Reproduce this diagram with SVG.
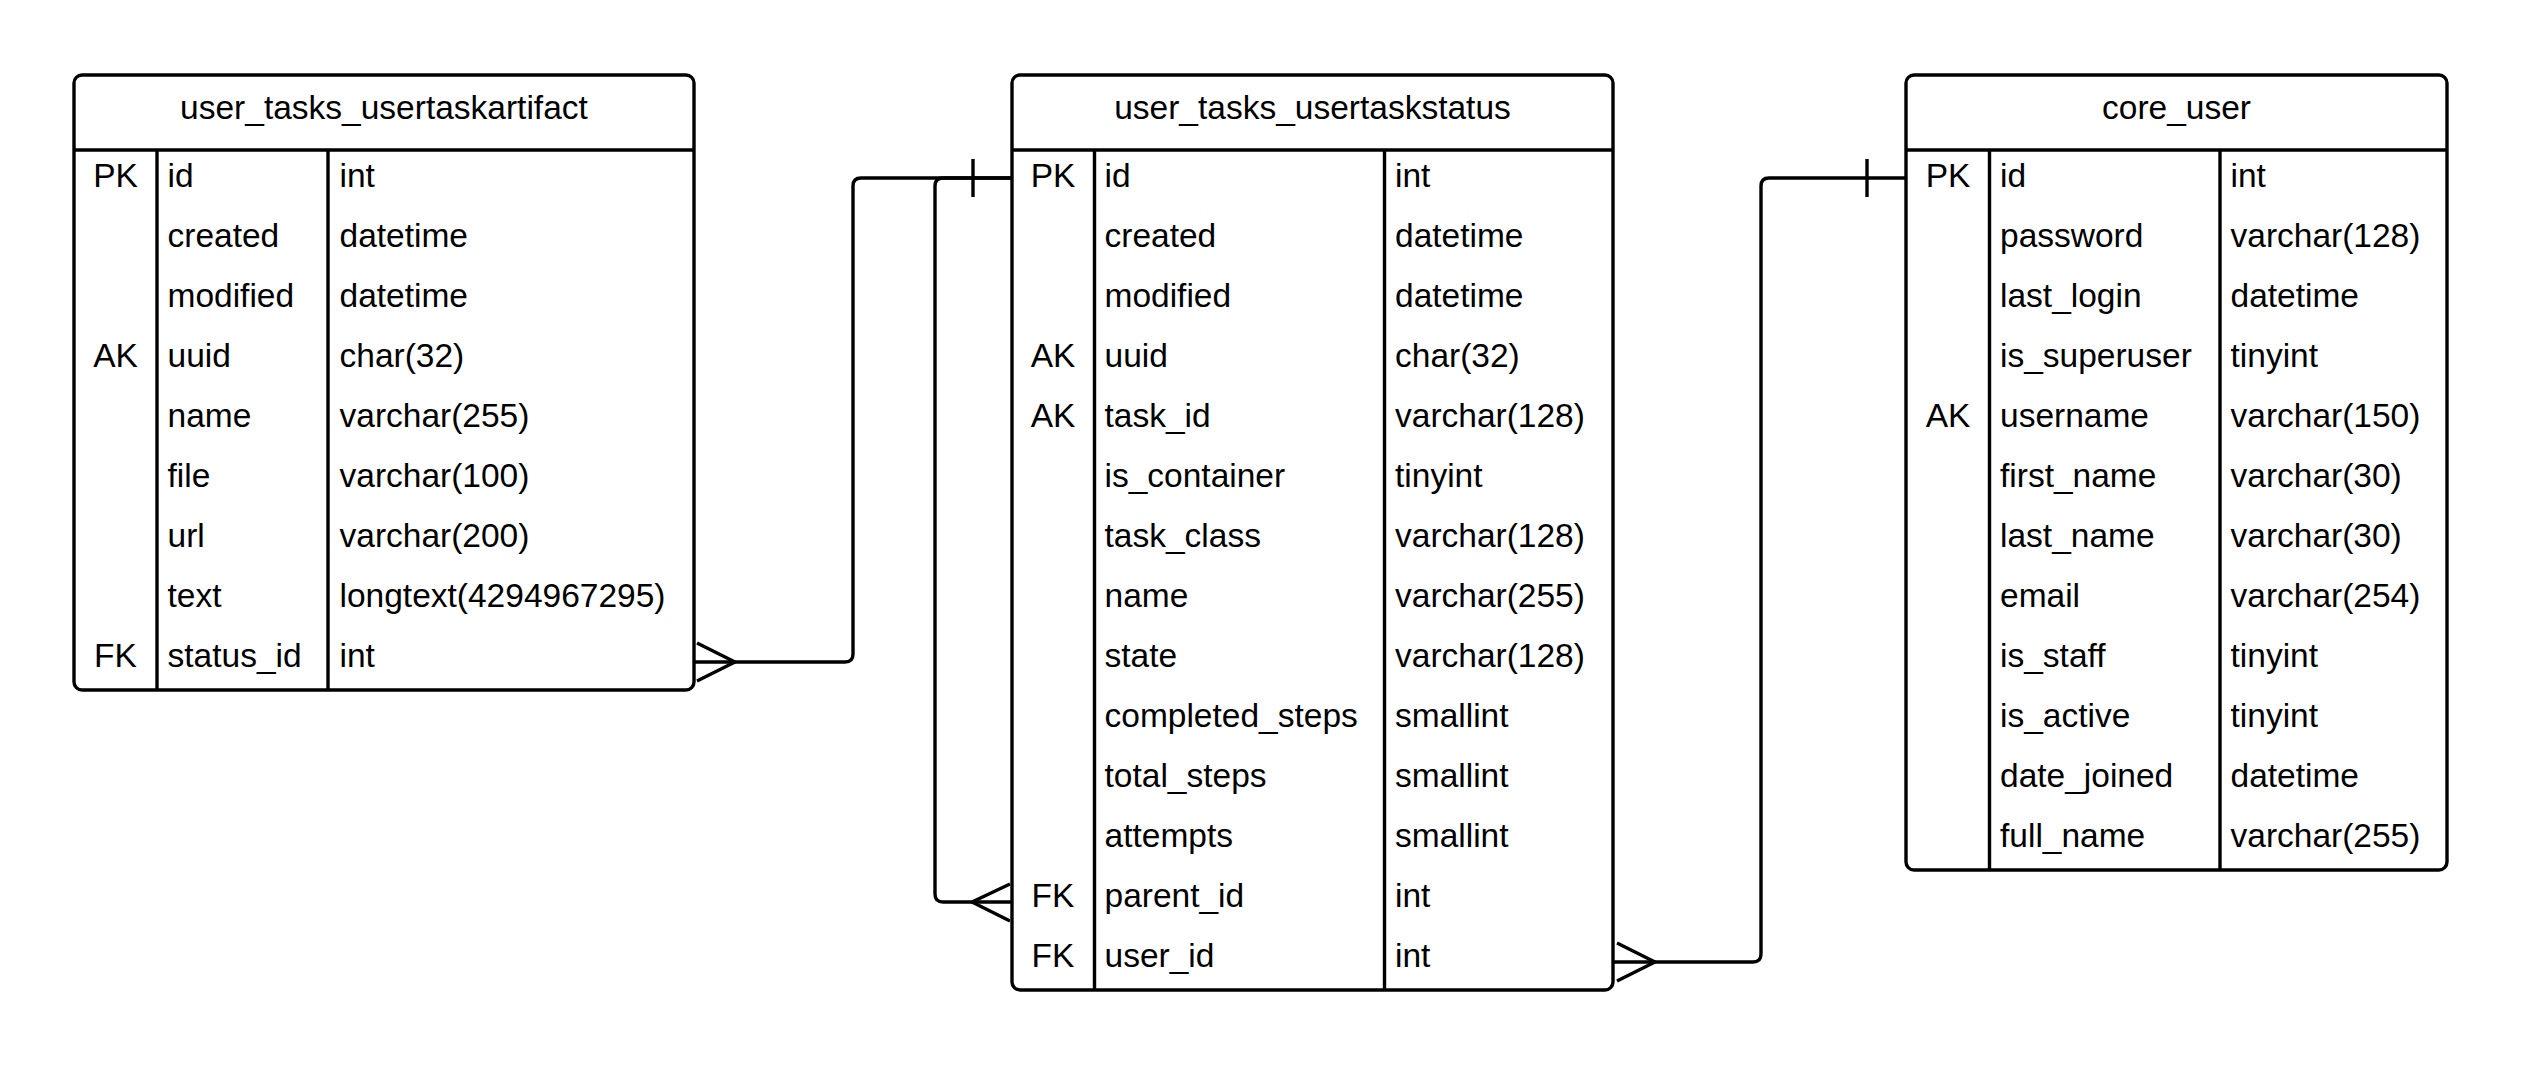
<svg xmlns="http://www.w3.org/2000/svg" width="2524" height="1065" viewBox="0 0 2524 1065">
<style>
.box{fill:#fff;stroke:#000;stroke-width:3.4}
.ln{stroke:#000;stroke-width:3.4;fill:none}
.t{font-family:"Liberation Sans",Arial,sans-serif;font-size:33.5px;fill:#000}
.h{text-anchor:middle}
.k{text-anchor:middle}
.c{fill:none;stroke:#000;stroke-width:3.4;stroke-linejoin:round}
</style>
<rect width="2524" height="1065" fill="#fff"/>
<g id="user_tasks_usertaskartifact">
<rect class="box" x="74" y="75" width="620" height="615" rx="8"/>
<path class="ln" d="M74 150H694M157 150V690M328 150V690"/>
<text class="t h" x="384" y="119">user_tasks_usertaskartifact</text>
<g class="t k"><text x="115.5" y="187">PK</text><text x="115.5" y="367">AK</text><text x="115.5" y="667">FK</text></g>
<g class="t">
<text x="167.5" y="187">id</text><text x="167.5" y="247">created</text><text x="167.5" y="307">modified</text><text x="167.5" y="367">uuid</text><text x="167.5" y="427">name</text><text x="167.5" y="487">file</text><text x="167.5" y="547">url</text><text x="167.5" y="607">text</text><text x="167.5" y="667">status_id</text>
<text x="339.5" y="187">int</text><text x="339.5" y="247">datetime</text><text x="339.5" y="307">datetime</text><text x="339.5" y="367">char(32)</text><text x="339.5" y="427">varchar(255)</text><text x="339.5" y="487">varchar(100)</text><text x="339.5" y="547">varchar(200)</text><text x="339.5" y="607">longtext(4294967295)</text><text x="339.5" y="667">int</text>
</g>
</g>
<g id="user_tasks_usertaskstatus">
<rect class="box" x="1012" y="75" width="601" height="915" rx="8"/>
<path class="ln" d="M1012 150H1613M1094.5 150V990M1384.5 150V990"/>
<text class="t h" x="1312.5" y="119">user_tasks_usertaskstatus</text>
<g class="t k"><text x="1053" y="187">PK</text><text x="1053" y="367">AK</text><text x="1053" y="427">AK</text><text x="1053" y="907">FK</text><text x="1053" y="967">FK</text></g>
<g class="t">
<text x="1104.5" y="187">id</text><text x="1104.5" y="247">created</text><text x="1104.5" y="307">modified</text><text x="1104.5" y="367">uuid</text><text x="1104.5" y="427">task_id</text><text x="1104.5" y="487">is_container</text><text x="1104.5" y="547">task_class</text><text x="1104.5" y="607">name</text><text x="1104.5" y="667">state</text><text x="1104.5" y="727">completed_steps</text><text x="1104.5" y="787">total_steps</text><text x="1104.5" y="847">attempts</text><text x="1104.5" y="907">parent_id</text><text x="1104.5" y="967">user_id</text>
<text x="1395" y="187">int</text><text x="1395" y="247">datetime</text><text x="1395" y="307">datetime</text><text x="1395" y="367">char(32)</text><text x="1395" y="427">varchar(128)</text><text x="1395" y="487">tinyint</text><text x="1395" y="547">varchar(128)</text><text x="1395" y="607">varchar(255)</text><text x="1395" y="667">varchar(128)</text><text x="1395" y="727">smallint</text><text x="1395" y="787">smallint</text><text x="1395" y="847">smallint</text><text x="1395" y="907">int</text><text x="1395" y="967">int</text>
</g>
</g>
<g id="core_user">
<rect class="box" x="1906" y="75" width="541" height="795" rx="8"/>
<path class="ln" d="M1906 150H2447M1989.5 150V870M2220 150V870"/>
<text class="t h" x="2176.5" y="119">core_user</text>
<g class="t k"><text x="1948" y="187">PK</text><text x="1948" y="427">AK</text></g>
<g class="t">
<text x="2000" y="187">id</text><text x="2000" y="247">password</text><text x="2000" y="307">last_login</text><text x="2000" y="367">is_superuser</text><text x="2000" y="427">username</text><text x="2000" y="487">first_name</text><text x="2000" y="547">last_name</text><text x="2000" y="607">email</text><text x="2000" y="667">is_staff</text><text x="2000" y="727">is_active</text><text x="2000" y="787">date_joined</text><text x="2000" y="847">full_name</text>
<text x="2230.5" y="187">int</text><text x="2230.5" y="247">varchar(128)</text><text x="2230.5" y="307">datetime</text><text x="2230.5" y="367">tinyint</text><text x="2230.5" y="427">varchar(150)</text><text x="2230.5" y="487">varchar(30)</text><text x="2230.5" y="547">varchar(30)</text><text x="2230.5" y="607">varchar(254)</text><text x="2230.5" y="667">tinyint</text><text x="2230.5" y="727">tinyint</text><text x="2230.5" y="787">datetime</text><text x="2230.5" y="847">varchar(255)</text>
</g>
</g>
<g id="connectors">
<path class="c" d="M695 662H845Q853 662 853 654V186Q853 178 861 178H1011"/>
<path class="c" d="M697 643L735 662L697 681"/>
<path class="c" d="M1011 902H943Q935 902 935 894V186Q935 178 943 178H1011"/>
<path class="c" d="M1010 884L972 902L1010 921"/>
<path class="c" d="M973 159V197"/>
<path class="c" d="M1614 962H1753Q1761 962 1761 954V186Q1761 178 1769 178H1905"/>
<path class="c" d="M1617 943L1655 962L1617 981"/>
<path class="c" d="M1867 159V197"/>
</g>
</svg>
